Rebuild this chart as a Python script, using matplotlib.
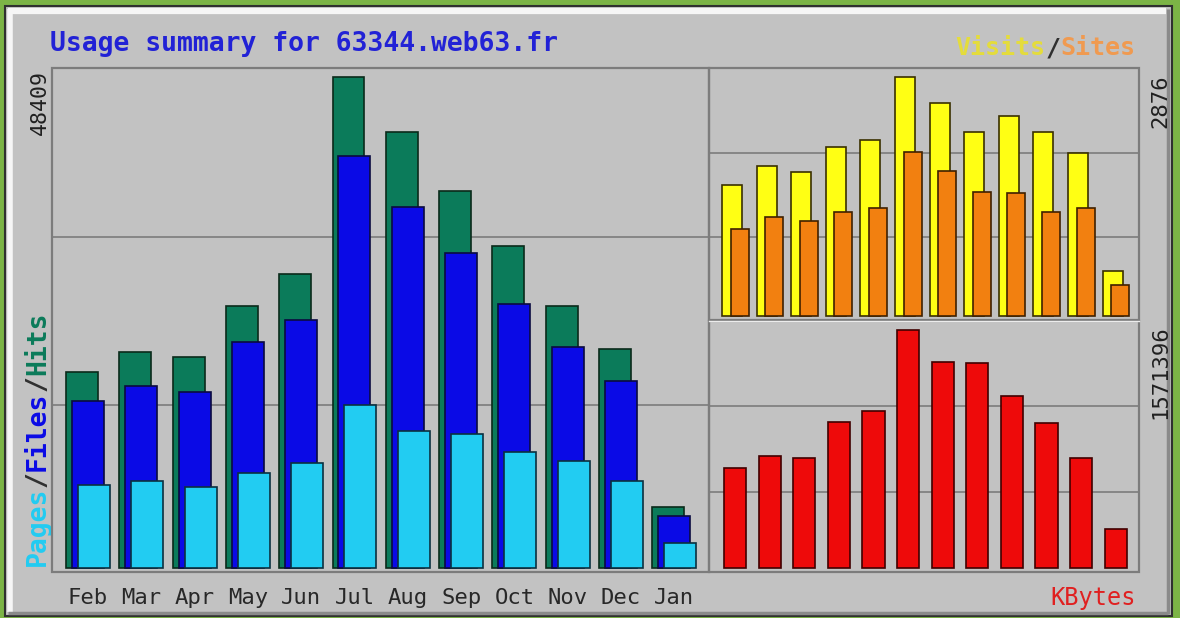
import matplotlib
matplotlib.use("Agg")
import matplotlib.pyplot as plt
import numpy as np

W, H = 1180, 618

months = ["Feb", "Mar", "Apr", "May", "Jun", "Jul", "Aug", "Sep", "Oct", "Nov", "Dec", "Jan"]
hits = [19324, 21296, 20803, 25831, 28986, 48409, 42986, 37169, 31746, 25831, 21592, 6014]
files = [16465, 17944, 17352, 22282, 24451, 40620, 35592, 31056, 26028, 21789, 18437, 5127]
pages = [8183, 8578, 7986, 9366, 10352, 16070, 13507, 13211, 11437, 10549, 8578, 2465]
visits = [1576, 1805, 1733, 2034, 2118, 2876, 2563, 2214, 2407, 2214, 1961, 541]
sites = [1047, 1191, 1143, 1251, 1300, 1973, 1745, 1492, 1480, 1251, 1300, 373]
kbytes = [660250, 739480, 728400, 961900, 1036600, 1571396, 1358000, 1355000,
          1135600, 959500, 724100, 257500]

GREEN = "#0b7b5a"
BLUE = "#0a0ae6"
CYAN = "#22ccf2"
YELLOW = "#ffff14"
ORANGE = "#f28010"
RED = "#ee0a0a"
PANEL = "#c2c2c2"
FRAME = "#7c7c7c"
MONO = "DejaVu Sans Mono"


def px_rect(x0, y0, x1, y1):
    return [x0 / W, 1 - y1 / H, (x1 - x0) / W, (y1 - y0) / H]


def ftext(x, y, s, **kw):
    return fig.text(x / W, 1 - y / H, s, family=MONO, **kw)


fig = plt.figure(figsize=(W / 100, H / 100), dpi=100, facecolor="#7cb446")

# background panel with bevel
bg = fig.add_axes([0, 0, 1, 1], zorder=0)
bg.set_xlim(0, W)
bg.set_ylim(H, 0)
bg.axis("off")
bg.add_patch(plt.Rectangle((5, 6), 1167, 610, facecolor=PANEL, edgecolor="#303030", lw=1.5))
bg.plot([8, 1166], [11, 11], color="#f6f6f6", lw=4.5, solid_capstyle="butt")
bg.plot([10, 10], [9, 612], color="#f6f6f6", lw=4, solid_capstyle="butt")
bg.plot([8, 1168], [613, 613], color="#8a8a8a", lw=2.5, solid_capstyle="butt")
bg.plot([1168, 1168], [9, 614], color="#8a8a8a", lw=2.5, solid_capstyle="butt")

n = len(months)
x = np.arange(n)

# left: hits / files / pages
k = 48409 / 491
ax1 = fig.add_axes(px_rect(53, 68, 708, 572), zorder=2)
ax1.set_facecolor(PANEL)
ax1.set_xlim((53 - 66) / 53.3, (708 - 66) / 53.3)
ax1.set_ylim(-4 * k, 500 * k)
for f in (163 / 491, 331 / 491):
    ax1.axhline(max(hits) * f, color=FRAME, lw=1.2, zorder=1)
bw, off = 0.6, 0.1125
ax1.bar(x, hits, width=bw, align="edge", color=GREEN, edgecolor="#0a2a1a", lw=1.2, zorder=2)
ax1.bar(x + off, files, width=bw, align="edge", color=BLUE, edgecolor="#0a0a40", lw=1.2, zorder=3)
ax1.bar(x + 2 * off, pages, width=bw, align="edge", color=CYAN, edgecolor="#0a3040", lw=1.2, zorder=4)
ax1.set_xticks([])
ax1.set_yticks([])
for s in ax1.spines.values():
    s.set_visible(False)

# top right: visits / sites
k2 = 2876 / 239
ax2 = fig.add_axes(px_rect(709, 68, 1139, 319), zorder=2)
ax2.set_facecolor(PANEL)
ax2.set_xlim((709 - 722) / 34.6, (1139 - 722) / 34.6)
ax2.set_ylim(-3 * k2, 248 * k2)
for f in (79 / 239, 163 / 239):
    ax2.axhline(max(visits) * f, color=FRAME, lw=1.2, zorder=1)
ax2.bar(x, visits, width=0.58, align="edge", color=YELLOW, edgecolor="#3a3000", lw=1.2, zorder=2)
ax2.bar(x + 0.25, sites, width=0.52, align="edge", color=ORANGE, edgecolor="#402000", lw=1.2, zorder=3)
ax2.set_xticks([])
ax2.set_yticks([])
for s in ax2.spines.values():
    s.set_visible(False)

# bottom right: kbytes
k3 = 1571396 / 238
ax3 = fig.add_axes(px_rect(709, 322, 1139, 572), zorder=2)
ax3.set_facecolor(PANEL)
ax3.set_xlim((709 - 724) / 34.6, (1139 - 724) / 34.6)
ax3.set_ylim(-4 * k3, 246 * k3)
for f in (76 / 238, 162 / 238):
    ax3.axhline(max(kbytes) * f, color=FRAME, lw=1.2, zorder=1)
ax3.bar(x, kbytes, width=0.64, align="edge", color=RED, edgecolor="#400000", lw=1.2, zorder=2)
ax3.set_xticks([])
ax3.set_yticks([])
for s in ax3.spines.values():
    s.set_visible(False)

# plot frames on top
fr = fig.add_axes([0, 0, 1, 1], zorder=5)
fr.set_xlim(0, W)
fr.set_ylim(H, 0)
fr.axis("off")
fr.patch.set_alpha(0)
fr.add_patch(plt.Rectangle((52, 68), 657, 504, fill=False, edgecolor=FRAME, lw=1.6))
fr.add_patch(plt.Rectangle((709, 68), 430, 252, fill=False, edgecolor=FRAME, lw=1.6))
fr.add_patch(plt.Rectangle((709, 321), 430, 251, fill=False, edgecolor=FRAME, lw=1.6))
fr.plot([709, 1139], [320.5, 320.5], color="#ececec", lw=1.0)

# texts
ftext(50, 44, "Usage summary for 63344.web63.fr", color="#2222d6", fontsize=19,
      fontweight="bold", ha="left", va="center")

fs_leg = 19
adv = 0.602 * fs_leg * 100 / 72
pieces = [("Pages", CYAN), ("/", "#303030"), ("Files", BLUE), ("/", "#303030"), ("Hits", GREEN)]
c = 0
for word, col in pieces:
    ftext(38, 566 - c * adv, word, color=col, fontsize=fs_leg, fontweight="bold",
          rotation=90, ha="center", va="bottom")
    c += len(word)

ftext(40, 70, f"{max(hits)}", color="#202020", fontsize=15.5, rotation=90, ha="center", va="top")
ftext(1160, 74, f"{max(visits)}", color="#202020", fontsize=16, rotation=90, ha="center", va="top")
ftext(1160, 325, f"{max(kbytes)}", color="#202020", fontsize=16, rotation=90, ha="center", va="top")

adv2 = 0.602 * 18 * 100 / 72
ftext(1136 - 5 * adv2, 48, "Sites", color="#f09a50", fontsize=18, fontweight="bold", ha="left", va="center")
ftext(1136 - 6 * adv2, 48, "/", color="#303030", fontsize=18, fontweight="bold", ha="left", va="center")
ftext(1136 - 12 * adv2, 48, "Visits", color="#e4dc3c", fontsize=18, fontweight="bold", ha="left", va="center")
ftext(1136, 598, "KBytes", color="#e02020", fontsize=17, ha="right", va="center")

for i, m in enumerate(months):
    cx = 66 + 53.3 * i + (bw + 2 * off) / 2 * 53.3
    ftext(cx, 598, m, color="#282828", fontsize=16, ha="center", va="center")

fig.savefig("out.png", dpi=100, facecolor=fig.get_facecolor())
